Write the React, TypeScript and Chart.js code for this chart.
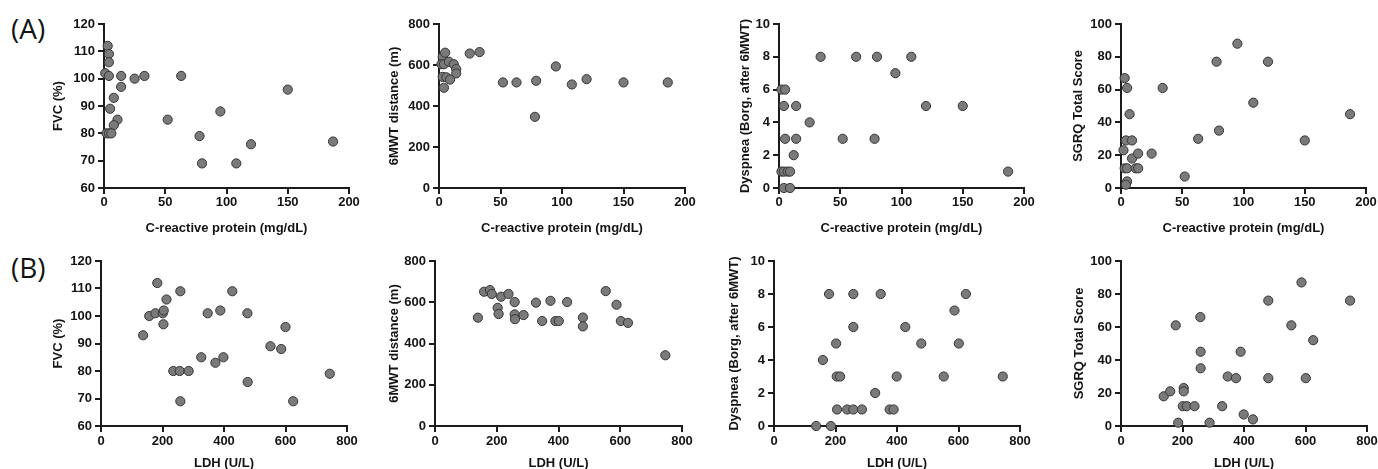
import React, { useEffect, useRef } from "react";
import { Chart, registerables } from "chart.js";

Chart.register(...registerables);

// ---------- Data ----------
// Row A: C-reactive protein (mg/dL)
const crpFvcX = [3, 4, 4, 1, 4, 14, 25, 33, 63, 14, 8, 5, 11, 8, 2, 4, 6, 52, 78, 80, 95, 108, 120, 150, 187];
const crpFvcY = [112, 109, 106, 102, 101, 101, 100, 101, 101, 97, 93, 89, 85, 83, 80, 80, 80, 85, 79, 69, 88, 69, 76, 96, 77];

const crp6mwtX = [3, 5, 2, 4, 8, 12, 14, 14, 3, 6, 9, 4, 25, 33, 52, 63, 79, 78, 95, 108, 120, 150, 186];
const crp6mwtY = [640, 660, 604, 604, 616, 604, 580, 559, 542, 540, 529, 489, 656, 663, 515, 515, 523, 347, 593, 505, 531, 515, 515];

const crpDyspX = [2, 5, 4, 5, 2, 4, 7, 9, 4, 9, 12, 14, 14, 25, 34, 52, 63, 78, 80, 95, 108, 120, 150, 187];
const crpDyspY = [6, 6, 5, 3, 1, 1, 1, 1, 0, 0, 2, 5, 3, 4, 8, 3, 8, 3, 8, 7, 8, 5, 5, 1];

const crpSgrqX = [3, 5, 7, 4, 9, 2, 9, 14, 25, 3, 5, 12, 14, 5, 4, 34, 52, 63, 78, 80, 95, 108, 120, 150, 187];
const crpSgrqY = [67, 61, 45, 29, 29, 23, 18, 21, 21, 12, 12, 12, 12, 4, 2, 61, 7, 30, 77, 35, 88, 52, 77, 29, 45];

// Row B: LDH (U/L)
const ldhFvcX = [137, 157, 177, 183, 201, 204, 203, 213, 235, 256, 285, 258, 258, 326, 347, 372, 388, 398, 427, 476, 477, 551, 586, 600, 625, 744];
const ldhFvcY = [93, 100, 101, 112, 101, 102, 97, 106, 80, 80, 80, 109, 69, 85, 101, 83, 102, 85, 109, 101, 76, 89, 88, 96, 69, 79];

const ldh6mwtX = [139, 159, 178, 184, 203, 206, 214, 238, 258, 258, 259, 287, 327, 347, 374, 390, 401, 428, 479, 479, 553, 588, 602, 625, 746];
const ldh6mwtY = [525, 651, 659, 640, 573, 543, 627, 640, 601, 541, 518, 538, 598, 509, 607, 509, 509, 601, 526, 483, 654, 588, 509, 500, 343];

const ldhDyspX = [137, 185, 179, 159, 202, 204, 215, 205, 238, 258, 286, 258, 258, 329, 347, 376, 389, 399, 427, 479, 552, 587, 601, 624, 744];
const ldhDyspY = [0, 0, 8, 4, 5, 3, 3, 1, 1, 1, 1, 8, 6, 2, 8, 1, 1, 3, 6, 5, 3, 7, 5, 8, 3];

const ldhSgrqX = [139, 160, 178, 186, 204, 204, 201, 214, 239, 258, 259, 259, 288, 329, 347, 374, 389, 399, 429, 479, 479, 554, 587, 601, 625, 745];
const ldhSgrqY = [18, 21, 61, 2, 23, 21, 12, 12, 12, 66, 45, 35, 2, 12, 30, 29, 45, 7, 4, 76, 29, 61, 87, 29, 52, 76];

// Axis texts
const crpTitle = "C-reactive protein (mg/dL)";
const ldhTitle = "LDH (U/L)";
const fvcTitle = "FVC (%)";
const mwtTitle = "6MWT distance (m)";
const dyspTitle = "Dyspnea (Borg, after 6MWT)";
const sgrqTitle = "SGRQ Total Score";

// Axis ranges: [min, max, step]
const crpRange = [0, 200, 50];
const ldhRange = [0, 800, 200];
const fvcRange = [60, 120, 10];
const mwtRange = [0, 800, 200];
const dyspRange = [0, 10, 2];
const sgrqRange = [0, 100, 20];

// ---------- Styling ----------
const FONT_FAMILY = "'Liberation Sans', Arial, sans-serif";
const FONT_SIZE = 13;
const LH = FONT_SIZE * 1.2;
const AXIS_COLOR = "#1c1c1c";
const TEXT_COLOR = "#141414";
const PAD_TOP = 12;
const PAD_RIGHT = 16;

type PanelCfg = {
  x0: number; x1: number; yTop: number; yBottom: number;
  yTitleX: number; xTitleY: number; tickPad: number;
  xs: number[]; ys: number[];
  xr: number[]; yr: number[];
  xTitle: string; yTitle: string;
};

function Panel({ cfg }: { cfg: PanelCfg }) {
  const ref = useRef<HTMLCanvasElement>(null);
  const CL = Math.round(cfg.yTitleX - LH / 2);
  const CT = Math.round(cfg.yTop - PAD_TOP);
  const padTop = cfg.yTop - CT;
  const CW = Math.ceil(cfg.x1 + PAD_RIGHT - CL);
  const padRight = CL + CW - cfg.x1;
  const CH = Math.round(cfg.xTitleY + LH / 2) - CT;
  const xAxisH = CT + CH - cfg.yBottom;
  const yAxisW = cfg.x0 - CL;

  useEffect(() => {
    if (!ref.current) return;
    const font = { family: FONT_FAMILY, size: FONT_SIZE, weight: "bold" as const };
    const chart = new Chart(ref.current, {
      type: "scatter",
      data: {
        datasets: [
          {
            data: cfg.xs.map((x, i) => ({ x, y: cfg.ys[i] })),
            backgroundColor: "#7a7a7a",
            borderColor: "#353535",
            borderWidth: 1,
            pointRadius: 4.6,
            pointHoverRadius: 4.6,
            clip: false as any,
          },
        ],
      },
      options: {
        responsive: false,
        maintainAspectRatio: false,
        animation: false,
        devicePixelRatio: 1,
        layout: { padding: { left: 0, top: padTop, right: padRight, bottom: 0 } },
        plugins: { legend: { display: false }, tooltip: { enabled: false } },
        scales: {
          x: {
            type: "linear",
            min: cfg.xr[0],
            max: cfg.xr[1],
            ticks: { stepSize: cfg.xr[2], font, color: TEXT_COLOR, padding: cfg.tickPad, maxRotation: 0, autoSkip: false },
            grid: { drawOnChartArea: false, drawTicks: true, tickLength: 6, color: AXIS_COLOR, lineWidth: 2 },
            border: { display: true, color: AXIS_COLOR, width: 2 },
            title: { display: true, text: cfg.xTitle, font, color: TEXT_COLOR, padding: 0 },
            afterFit: (s: any) => { s.height = xAxisH; },
          },
          y: {
            type: "linear",
            min: cfg.yr[0],
            max: cfg.yr[1],
            ticks: { stepSize: cfg.yr[2], font, color: TEXT_COLOR, padding: 3, autoSkip: false },
            grid: { drawOnChartArea: false, drawTicks: true, tickLength: 6, color: AXIS_COLOR, lineWidth: 2 },
            border: { display: true, color: AXIS_COLOR, width: 2 },
            title: { display: true, text: cfg.yTitle, font, color: TEXT_COLOR, padding: 0 },
            afterFit: (s: any) => { s.width = yAxisW; },
          },
        },
      },
    });
    return () => chart.destroy();
  }, []);

  return (
    <canvas
      ref={ref}
      width={CW}
      height={CH}
      style={{ position: "absolute", left: CL, top: CT, width: CW, height: CH }}
    />
  );
}

const rowA = { yTop: 24, yBottom: 188, xTitleY: 228, tickPad: 1 };
const rowB = { yTop: 261, yBottom: 426, xTitleY: 463, tickPad: 2 };

const panels: PanelCfg[] = [
  { ...rowA, x0: 104, x1: 349, yTitleX: 59, xs: crpFvcX, ys: crpFvcY, xr: crpRange, yr: fvcRange, xTitle: crpTitle, yTitle: fvcTitle },
  { ...rowA, x0: 439, x1: 685, yTitleX: 395, xs: crp6mwtX, ys: crp6mwtY, xr: crpRange, yr: mwtRange, xTitle: crpTitle, yTitle: mwtTitle },
  { ...rowA, x0: 779, x1: 1024, yTitleX: 746, xs: crpDyspX, ys: crpDyspY, xr: crpRange, yr: dyspRange, xTitle: crpTitle, yTitle: dyspTitle },
  { ...rowA, x0: 1121, x1: 1366, yTitleX: 1079, xs: crpSgrqX, ys: crpSgrqY, xr: crpRange, yr: sgrqRange, xTitle: crpTitle, yTitle: sgrqTitle },
  { ...rowB, x0: 101, x1: 347, yTitleX: 59, xs: ldhFvcX, ys: ldhFvcY, xr: ldhRange, yr: fvcRange, xTitle: ldhTitle, yTitle: fvcTitle },
  { ...rowB, x0: 435, x1: 682, yTitleX: 395, xs: ldh6mwtX, ys: ldh6mwtY, xr: ldhRange, yr: mwtRange, xTitle: ldhTitle, yTitle: mwtTitle },
  { ...rowB, x0: 774, x1: 1020, yTitleX: 735, xs: ldhDyspX, ys: ldhDyspY, xr: ldhRange, yr: dyspRange, xTitle: ldhTitle, yTitle: dyspTitle },
  { ...rowB, x0: 1121, x1: 1367, yTitleX: 1080, xs: ldhSgrqX, ys: ldhSgrqY, xr: ldhRange, yr: sgrqRange, xTitle: ldhTitle, yTitle: sgrqTitle },
];

const panelLabels = [
  { text: "(A)", top: 11 },
  { text: "(B)", top: 250 },
];

export default function App() {
  return (
    <div
      style={{
        position: "absolute",
        left: 0,
        top: 0,
        width: 1378,
        height: 469,
        background: "#ffffff",
        overflow: "hidden",
      }}
    >
      {panelLabels.map((l) => (
        <div
          key={l.text}
          style={{
            position: "absolute",
            left: 11,
            top: l.top,
            fontFamily: "'Open Sans', 'Liberation Sans', sans-serif",
            fontSize: 28,
            lineHeight: "34px",
            color: "#141414",
          }}
        >
          {l.text}
        </div>
      ))}
      {panels.map((p, i) => (
        <Panel key={i} cfg={p} />
      ))}
    </div>
  );
}
